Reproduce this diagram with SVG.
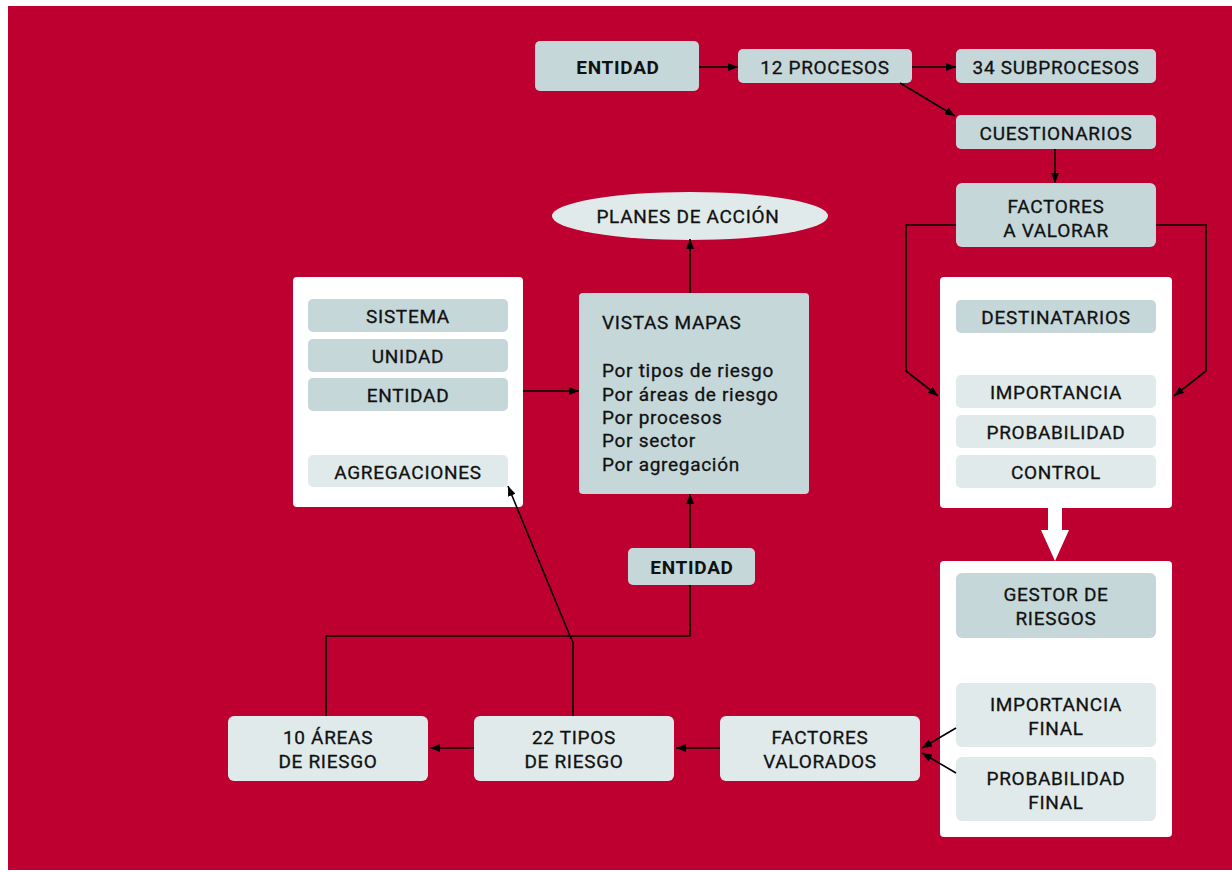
<svg xmlns="http://www.w3.org/2000/svg" width="1232" height="872" viewBox="0 0 1232 872">
<defs>
<style>
.dark{fill:#C5D7D9;}
.light{fill:#E0EAEA;}
.panel{fill:#FFFFFF;}
text{font-family:Roboto,"Liberation Sans",sans-serif;font-size:19px;font-weight:normal;letter-spacing:0.7px;fill:#111;text-anchor:middle;stroke:#111;stroke-width:0.3px;}
.b{font-weight:bold;stroke-width:0;}
.l{text-anchor:start;}
.c{fill:none;stroke:#000;stroke-width:1.6;}
</style>
<marker id="ah" viewBox="0 0 10 8" refX="10" refY="4" markerWidth="10" markerHeight="8" markerUnits="userSpaceOnUse" orient="auto">
<path d="M0,0 L10,4 L0,8 Z" fill="#000"/>
</marker>
</defs>
<rect x="8" y="6" width="1224" height="864" fill="#BE0030"/>

<g id="entidad-top"><rect class="dark" x="535" y="41" width="164" height="50" rx="5"/><text class="b" x="618" y="74">ENTIDAD</text></g>
<g id="procesos"><rect class="dark" x="738" y="49" width="174" height="34" rx="5"/><text x="825" y="74">12 PROCESOS</text></g>
<g id="subprocesos"><rect class="dark" x="956" y="49" width="200" height="34" rx="5"/><text x="1056" y="74">34 SUBPROCESOS</text></g>
<g id="cuestionarios"><rect class="dark" x="956" y="115" width="200" height="34" rx="5"/><text x="1056" y="140">CUESTIONARIOS</text></g>
<g id="factores-valorar"><rect class="dark" x="956" y="183" width="200" height="64" rx="6"/><text x="1056" y="213">FACTORES</text><text x="1056" y="237">A VALORAR</text></g>

<g id="panel-factores">
<rect class="panel" x="940" y="277" width="232" height="231" rx="4"/>
<rect class="dark" x="956" y="300" width="200" height="33" rx="5"/><text x="1056" y="324">DESTINATARIOS</text>
<rect class="light" x="956" y="375" width="200" height="33" rx="5"/><text x="1056" y="399">IMPORTANCIA</text>
<rect class="light" x="956" y="415" width="200" height="33" rx="5"/><text x="1056" y="439">PROBABILIDAD</text>
<rect class="light" x="956" y="455" width="200" height="33" rx="5"/><text x="1056" y="479">CONTROL</text>
</g>

<g id="panel-gestor">
<rect class="panel" x="940" y="561" width="232" height="276" rx="4"/>
<rect class="dark" x="956" y="573" width="200" height="65" rx="6"/><text x="1056" y="601">GESTOR DE</text><text x="1056" y="625">RIESGOS</text>
<rect class="light" x="956" y="683" width="200" height="64" rx="6"/><text x="1056" y="711">IMPORTANCIA</text><text x="1056" y="735">FINAL</text>
<rect class="light" x="956" y="757" width="200" height="64" rx="6"/><text x="1056" y="785">PROBABILIDAD</text><text x="1056" y="809">FINAL</text>
</g>

<g id="factores-valorados"><rect class="light" x="720" y="716" width="200" height="65" rx="6"/><text x="820" y="744">FACTORES</text><text x="820" y="768">VALORADOS</text></g>
<g id="tipos-riesgo"><rect class="light" x="474" y="716" width="200" height="65" rx="6"/><text x="574" y="744">22 TIPOS</text><text x="574" y="768">DE RIESGO</text></g>
<g id="areas-riesgo"><rect class="light" x="228" y="716" width="200" height="65" rx="6"/><text x="328" y="744">10 ÁREAS</text><text x="328" y="768">DE RIESGO</text></g>

<g id="entidad-mid"><rect class="dark" x="628" y="548" width="127" height="37" rx="5"/><text class="b" x="692" y="574">ENTIDAD</text></g>

<g id="vistas-mapas">
<rect class="dark" x="579" y="293" width="230" height="201" rx="4"/>
<text class="l" x="602" y="329">VISTAS MAPAS</text>
<text class="l" x="602" y="377">Por tipos de riesgo</text>
<text class="l" x="602" y="401">Por áreas de riesgo</text>
<text class="l" x="602" y="424">Por procesos</text>
<text class="l" x="602" y="447">Por sector</text>
<text class="l" x="602" y="471">Por agregación</text>
</g>

<g id="planes-accion"><ellipse class="light" cx="690" cy="216" rx="138" ry="24"/><text x="688" y="223">PLANES DE ACCIÓN</text></g>

<g id="panel-niveles">
<rect class="panel" x="293" y="277" width="230" height="230" rx="4"/>
<rect class="dark" x="308" y="299" width="200" height="33" rx="5"/><text x="408" y="323">SISTEMA</text>
<rect class="dark" x="308" y="339" width="200" height="33" rx="5"/><text x="408" y="363">UNIDAD</text>
<rect class="dark" x="308" y="378" width="200" height="33" rx="5"/><text x="408" y="402">ENTIDAD</text>
<rect class="light" x="308" y="455" width="200" height="32" rx="5"/><text x="408" y="479">AGREGACIONES</text>
</g>

<g id="connectors">
<line class="c" x1="699" y1="67" x2="738" y2="67" marker-end="url(#ah)"/>
<line class="c" x1="912" y1="67" x2="956" y2="67" marker-end="url(#ah)"/>
<line class="c" x1="900" y1="83" x2="955" y2="116" marker-end="url(#ah)"/>
<line class="c" x1="1055" y1="149" x2="1055" y2="183" marker-end="url(#ah)"/>
<polyline class="c" points="956,225 906,225 906,371 938,396" marker-end="url(#ah)"/>
<polyline class="c" points="1156,225 1206,225 1206,371 1174,396" marker-end="url(#ah)"/>
<path d="M1048,508 H1062 V530 H1069 L1055,561 L1041,530 H1048 Z" fill="#FFFFFF"/>
<line class="c" x1="956" y1="728" x2="922" y2="748" marker-end="url(#ah)"/>
<line class="c" x1="956" y1="773" x2="922" y2="753" marker-end="url(#ah)"/>
<line class="c" x1="720" y1="748" x2="676" y2="748" marker-end="url(#ah)"/>
<line class="c" x1="474" y1="748" x2="430" y2="748" marker-end="url(#ah)"/>
<polyline class="c" points="326,716 326,636 690,636 690,585"/>
<line class="c" x1="690" y1="548" x2="690" y2="494" marker-end="url(#ah)"/>
<polyline class="c" points="573,716 573,642 570,636 508,486" marker-end="url(#ah)"/>
<line class="c" x1="690" y1="293" x2="690" y2="239" marker-end="url(#ah)"/>
<line class="c" x1="523" y1="391" x2="579" y2="391" marker-end="url(#ah)"/>
</g>
</svg>
